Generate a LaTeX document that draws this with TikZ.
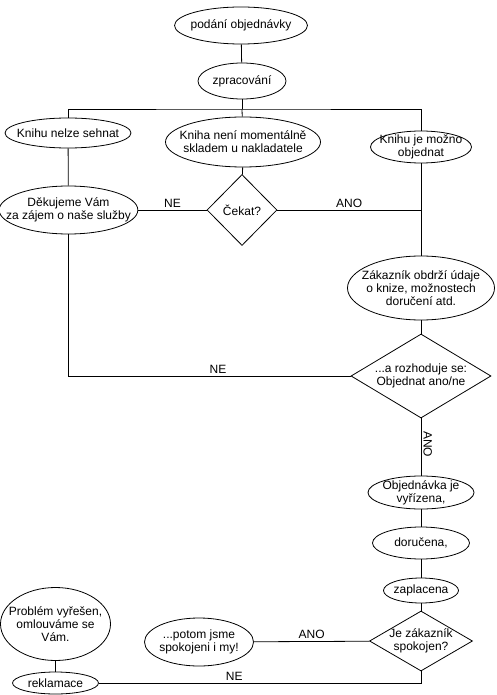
\documentclass[tikz,border=0pt]{standalone}
\usepackage{fontspec}
\setmainfont{Liberation Sans}
\usetikzlibrary{shapes.geometric}

\begin{document}
\begin{tikzpicture}[x=0.75pt,y=-0.75pt,line width=0.6pt,
  every node/.style={font=\fontsize{9}{9.6}\selectfont},
  step node/.style={ellipse,draw,inner xsep=-10pt,inner ysep=-3pt,align=center},
  ask node/.style={diamond,draw,inner sep=0pt,align=center},
  tag/.style={inner sep=1.5pt}]
\useasboundingbox (0,0) rectangle (496,695);

\node at (241,25.5) [step node,minimum width=99.75pt,minimum height=27.75pt] (obj) {podání objednávky};
\node at (242,81) [step node,minimum width=66pt,minimum height=27pt] (zpr) {zpracování};
\coordinate (bar) at (242,109);

\node at (68,133) [step node,minimum width=94.5pt,minimum height=22.5pt] (nelze) {Knihu nelze sehnat};
\node at (243,142) [step node,minimum width=116.25pt,minimum height=37.5pt] (neni) {Kniha není momentálně\\skladem u nakladatele};
\node at (421,147) [step node,minimum width=75.75pt,minimum height=24pt] (mozno) {Knihu je možno\\objednat};

\node at (68.5,210) [step node,minimum width=102.75pt,minimum height=36pt] (dek) {Děkujeme Vám\\za zájem o naše služby};
\node at (242,210) [ask node,minimum width=52.5pt,minimum height=53.25pt] (cekat) {Čekat?};
\node at (421,288) [step node,minimum width=110.25pt,minimum height=48pt] (udaje) {Zákazník obdrží údaje\\o knize, možnostech\\doručení atd.};
\node at (421,376) [ask node,aspect=1.67,minimum width=105pt,minimum height=63pt] (rozh) {...a rozhoduje se:\\Objednat ano/ne};

\node at (421,492.5) [step node,minimum width=79.5pt,minimum height=24.75pt] (vyr) {Objednávka je\\vyřízena,};
\node at (421,543) [step node,minimum width=72.75pt,minimum height=24pt] (dor) {doručena,};
\node at (421,590.5) [step node,minimum width=56.25pt,minimum height=18.75pt] (zapl) {zaplacena};
\node at (421,641) [ask node,aspect=1.72,inner xsep=-3pt,minimum width=77.25pt,minimum height=45pt] (spok) {Je zákazník\\spokojen?};
\node at (199,642) [step node,minimum width=81.75pt,minimum height=36pt] (potom) {...potom jsme\\spokojeni i my!};
\node at (55.5,683) [step node,minimum width=64.5pt,minimum height=16.5pt] (rekl) {reklamace};
\node at (55.5,624) [step node,minimum width=82.5pt,minimum height=54.75pt] (probl) {Problém vyřešen,\\omlouváme se\\Vám.};

\draw (obj) -- (zpr);
\draw (zpr) -- (bar);
\draw (nelze) |- (bar) -| (mozno);
\draw (bar) -- (neni);
\draw (nelze) -- (dek);
\draw (neni) -- (cekat);
\draw (cekat) -- node[tag,above]{NE} (dek);
\draw (cekat) -- node[tag,above]{ANO} (cekat -| mozno);
\draw (mozno) -- (udaje);
\draw (udaje) -- (rozh);
\draw (rozh) -| node[tag,pos=0.235,above]{NE} (dek);
\draw (rozh) -- node[tag,pos=0.45,rotate=-90,anchor=south]{ANO} (vyr);
\draw (vyr) -- (dor);
\draw (dor) -- (zapl);
\draw (zapl) -- (spok);
\draw (spok) -- node[tag,above]{ANO} (potom);
\draw (spok) |- node[tag,pos=0.79,above]{NE} (rekl);
\draw (rekl) -- (probl);
\end{tikzpicture}
\end{document}
